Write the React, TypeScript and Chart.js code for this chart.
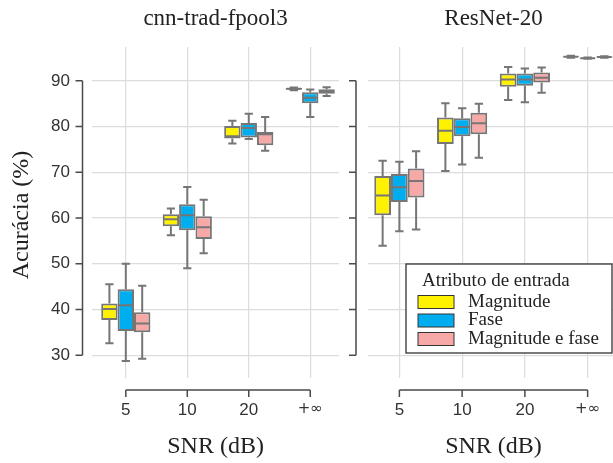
import React, { useEffect, useRef } from "react";
import { Chart, registerables } from "chart.js";
Chart.register(...registerables);

// ---------- data ----------
const snrLabels = ["5", "10", "20", "+∞"];
const yTickValues = [30, 40, 50, 60, 70, 80, 90];
const seriesNames = ["Magnitude", "Fase", "Magnitude e fase"];
const seriesColors = ["#FFF200", "#00AEEF", "#F7A9A8"];
const panelTitles = ["cnn-trad-fpool3", "ResNet-20"];
const xAxisTitle = "SNR (dB)";
const yAxisTitle = "Acurácia (%)";
const legendTitle = "Atributo de entrada";

// cnn-trad-fpool3
const cnnMagLow = [32.6, 56.2, 76.3, 87.95];
const cnnMagQ1 = [37.7, 58.2, 77.4, 88.05];
const cnnMagMed = [40.1, 59.7, 77.9, 88.25];
const cnnMagQ3 = [41.3, 60.8, 80.1, 88.45];
const cnnMagHigh = [45.5, 62.1, 81.25, 88.55];

const cnnFaseLow = [28.7, 49.0, 77.25, 82.1];
const cnnFaseQ1 = [35.3, 57.3, 77.6, 85.1];
const cnnFaseMed = [40.9, 60.6, 79.7, 86.3];
const cnnFaseQ3 = [44.4, 63.0, 80.8, 87.5];
const cnnFaseHigh = [50.0, 66.8, 82.8, 88.1];

const cnnBothLow = [29.2, 52.3, 74.7, 86.7];
const cnnBothQ1 = [35.0, 55.4, 75.9, 87.2];
const cnnBothMed = [36.9, 58.0, 78.3, 87.75];
const cnnBothQ3 = [39.4, 60.4, 78.8, 88.15];
const cnnBothHigh = [45.2, 64.0, 82.1, 88.6];

// ResNet-20
const resMagLow = [53.9, 70.3, 85.8, 95.05];
const resMagQ1 = [60.6, 76.2, 88.7, 95.15];
const resMagMed = [64.9, 79.1, 90.3, 95.25];
const resMagQ3 = [69.2, 82.0, 91.6, 95.35];
const resMagHigh = [72.5, 85.1, 93.0, 95.5];

const resFaseLow = [57.1, 71.7, 85.3, 94.85];
const resFaseQ1 = [63.5, 77.9, 88.9, 94.9];
const resFaseMed = [66.7, 79.9, 90.3, 94.95];
const resFaseQ3 = [69.6, 81.8, 91.6, 95.05];
const resFaseHigh = [72.3, 84.0, 92.7, 95.1];

const resBothLow = [57.5, 73.2, 87.4, 95.05];
const resBothQ1 = [64.5, 78.3, 89.65, 95.1];
const resBothMed = [68.1, 80.7, 90.7, 95.2];
const resBothQ3 = [70.8, 83.0, 91.8, 95.3];
const resBothHigh = [74.6, 85.0, 92.9, 95.35];

type Stats = { lo: number[]; q1: number[]; med: number[]; q3: number[]; hi: number[] };

const cnnStats: Stats[] = [
  { lo: cnnMagLow, q1: cnnMagQ1, med: cnnMagMed, q3: cnnMagQ3, hi: cnnMagHigh },
  { lo: cnnFaseLow, q1: cnnFaseQ1, med: cnnFaseMed, q3: cnnFaseQ3, hi: cnnFaseHigh },
  { lo: cnnBothLow, q1: cnnBothQ1, med: cnnBothMed, q3: cnnBothQ3, hi: cnnBothHigh },
];
const resStats: Stats[] = [
  { lo: resMagLow, q1: resMagQ1, med: resMagMed, q3: resMagQ3, hi: resMagHigh },
  { lo: resFaseLow, q1: resFaseQ1, med: resFaseMed, q3: resFaseQ3, hi: resFaseHigh },
  { lo: resBothLow, q1: resBothQ1, med: resBothMed, q3: resBothQ3, hi: resBothHigh },
];

// ---------- styles ----------
const EDGE = "rgb(118,118,118)";
const GRID = "#dcdcdc";
const AXIS = "#4a4a4a";
const TEXT = "#222";
const SERIF = "'Liberation Serif', 'Times New Roman', serif";
const SANS = "'Liberation Sans', Arial, sans-serif";
const DEJAVU = "'DejaVu Sans', sans-serif";

type Panel = {
  canvasLeft: number;
  canvasWidth: number;
  title: string;
  stats: Stats[];
  xMin: number;
  xMax: number;
  yAxisWidth: number;
  padRight: number;
  axisGap: number;
  showYLabels: boolean;
  showYTitle: boolean;
  showLegend: boolean;
};

const H = 463;
const PLOT_TOP = 47;
const PLOT_BOTTOM = 378;
const X_AXIS_Y = 390;

function makePlugin(p: Panel) {
  return {
    id: "boxDeco" + p.title,
    afterDatasetsDraw(chart: any) {
      const ctx = chart.ctx;
      const y = chart.scales.y;
      chart.data.datasets.forEach((ds: any, di: number) => {
        const meta = chart.getDatasetMeta(di);
        const st: Stats = ds.stats;
        meta.data.forEach((el: any, i: number) => {
          const { x, width } = el.getProps(["x", "width"], true);
          const pLo = y.getPixelForValue(st.lo[i]);
          const pQ1 = y.getPixelForValue(st.q1[i]);
          const pMed = y.getPixelForValue(st.med[i]);
          const pQ3 = y.getPixelForValue(st.q3[i]);
          const pHi = y.getPixelForValue(st.hi[i]);
          ctx.save();
          ctx.strokeStyle = EDGE;
          ctx.lineWidth = 2;
          ctx.beginPath();
          ctx.moveTo(x, pHi);
          ctx.lineTo(x, pQ3);
          ctx.moveTo(x, pQ1);
          ctx.lineTo(x, pLo);
          ctx.moveTo(x - width / 4, pHi);
          ctx.lineTo(x + width / 4, pHi);
          ctx.moveTo(x - width / 4, pLo);
          ctx.lineTo(x + width / 4, pLo);
          ctx.moveTo(x - width / 2 + 1, pMed);
          ctx.lineTo(x + width / 2 - 1, pMed);
          ctx.stroke();
          ctx.restore();
        });
      });
    },
    afterDraw(chart: any) {
      const ctx = chart.ctx;
      const xs = chart.scales.x;
      const ys = chart.scales.y;
      const ca = chart.chartArea;
      ctx.save();
      // axis lines (trimmed, offset)
      ctx.strokeStyle = AXIS;
      ctx.lineWidth = 1.5;
      const ax = ca.left - p.axisGap;
      const yTop = ys.getPixelForValue(yTickValues[yTickValues.length - 1]);
      const yBot = ys.getPixelForValue(yTickValues[0]);
      ctx.beginPath();
      ctx.moveTo(ax, yTop);
      ctx.lineTo(ax, yBot);
      yTickValues.forEach((v) => {
        const py = ys.getPixelForValue(v);
        ctx.moveTo(ax - 7, py);
        ctx.lineTo(ax, py);
      });
      const x0 = xs.getPixelForValue(0);
      const x3 = xs.getPixelForValue(snrLabels.length - 1);
      ctx.moveTo(x0, X_AXIS_Y);
      ctx.lineTo(x3, X_AXIS_Y);
      snrLabels.forEach((_, i) => {
        const px = xs.getPixelForValue(i);
        ctx.moveTo(px, X_AXIS_Y);
        ctx.lineTo(px, X_AXIS_Y + 7);
      });
      ctx.stroke();

      // titles
      const cx = (ca.left + ca.right) / 2;
      ctx.fillStyle = TEXT;
      ctx.textAlign = "center";
      ctx.textBaseline = "middle";
      ctx.font = `23px ${SERIF}`;
      ctx.fillText(p.title, cx, 19);
      ctx.font = `24px ${SERIF}`;
      ctx.fillText(xAxisTitle, cx, 447);
      if (p.showYTitle) {
        ctx.save();
        ctx.translate(22, 215);
        ctx.rotate(-Math.PI / 2);
        ctx.fillText(yAxisTitle, 0, 0);
        ctx.restore();
      }

      // legend
      if (p.showLegend) {
        const ox = -p.canvasLeft;
        const bx = 406 + ox;
        const by = 264;
        const bw = 206;
        const bh = 89;
        ctx.fillStyle = "#fff";
        ctx.fillRect(bx, by, bw, bh);
        ctx.strokeStyle = "#333";
        ctx.lineWidth = 1.3;
        ctx.strokeRect(bx, by, bw, bh);
        ctx.fillStyle = TEXT;
        ctx.textAlign = "left";
        ctx.textBaseline = "middle";
        ctx.font = `19px ${SERIF}`;
        ctx.fillText(legendTitle, 422 + ox, 281);
        const rows = [302, 320.5, 339];
        chart.data.datasets.forEach((ds: any, i: number) => {
          const ry = rows[i];
          ctx.fillStyle = ds.backgroundColor;
          ctx.fillRect(418 + ox, ry - 6.5, 36, 13);
          ctx.strokeStyle = "#333";
          ctx.lineWidth = 1;
          ctx.strokeRect(418 + ox, ry - 6.5, 36, 13);
          ctx.fillStyle = TEXT;
          ctx.fillText(ds.label, 468 + ox, ry);
        });
      }
      ctx.restore();
    },
  };
}

function buildChart(canvas: HTMLCanvasElement, p: Panel) {
  const datasets = p.stats.map((st, si) => ({
    label: seriesNames[si],
    backgroundColor: seriesColors[si],
    borderColor: EDGE,
    borderWidth: 2,
    borderSkipped: false,
    categoryPercentage: 0.8,
    barPercentage: 1.0,
    stats: st,
    data: snrLabels.map((_, i) => ({ x: i, y: [st.q1[i], st.q3[i]] })),
  }));
  return new Chart(canvas, {
    type: "bar",
    data: { datasets } as any,
    plugins: [makePlugin(p)],
    options: {
      responsive: false,
      animation: false,
      layout: { padding: { top: PLOT_TOP, right: p.padRight, left: 0, bottom: 0 } },
      plugins: { legend: { display: false }, tooltip: { enabled: false } },
      scales: {
        x: {
          type: "linear",
          min: p.xMin,
          max: p.xMax,
          offset: false,
          afterBuildTicks: (s: any) => {
            s.ticks = snrLabels.map((_, i) => ({ value: i }));
          },
          afterFit: (s: any) => {
            s.height = H - PLOT_BOTTOM;
          },
          grid: { offset: false, color: GRID, lineWidth: 1.2, drawTicks: false },
          border: { display: false },
          ticks: {
            padding: 22,
            color: "#333",
            maxRotation: 0,
            autoSkip: false,
            callback: (v: any) => snrLabels[Math.round(Number(v))],
            font: (c: any) =>
              c.index === 3 ? { family: DEJAVU, size: 15 } : { family: SANS, size: 17 },
          },
        },
        y: {
          type: "linear",
          min: 25,
          max: 97.4,
          beginAtZero: false,
          afterBuildTicks: (s: any) => {
            s.ticks = yTickValues.map((v) => ({ value: v }));
          },
          afterFit: (s: any) => {
            s.width = p.yAxisWidth;
          },
          grid: { color: GRID, lineWidth: 1.2, drawTicks: false },
          border: { display: false },
          ticks: {
            display: p.showYLabels,
            padding: 22,
            color: "#333",
            font: { family: SANS, size: 17 },
          },
        },
      },
    } as any,
  });
}

const panels: Panel[] = [
  {
    canvasLeft: 0,
    canvasWidth: 345,
    title: panelTitles[0],
    stats: cnnStats,
    xMin: -0.55,
    xMax: 3.47,
    yAxisWidth: 92,
    padRight: 2,
    axisGap: 9.5,
    showYLabels: true,
    showYTitle: true,
    showLegend: false,
  },
  {
    canvasLeft: 345,
    canvasWidth: 280,
    title: panelTitles[1],
    stats: resStats,
    xMin: -0.5,
    xMax: 3.5,
    yAxisWidth: 23,
    padRight: 6,
    axisGap: 12,
    showYLabels: false,
    showYTitle: false,
    showLegend: true,
  },
];

export default function App() {
  const ref0 = useRef<HTMLCanvasElement>(null);
  const ref1 = useRef<HTMLCanvasElement>(null);
  useEffect(() => {
    const charts: Chart[] = [];
    if (ref0.current) charts.push(buildChart(ref0.current, panels[0]));
    if (ref1.current) charts.push(buildChart(ref1.current, panels[1]));
    return () => charts.forEach((c) => c.destroy());
  }, []);
  const refs = [ref0, ref1];
  return (
    <div
      style={{
        position: "fixed",
        left: 0,
        top: 0,
        width: 613,
        height: H,
        overflow: "hidden",
        background: "#fff",
      }}
    >
      {panels.map((p, i) => (
        <canvas
          key={i}
          ref={refs[i]}
          width={p.canvasWidth}
          height={H}
          style={{
            position: "absolute",
            left: p.canvasLeft,
            top: 0,
            width: p.canvasWidth,
            height: H,
          }}
        />
      ))}
    </div>
  );
}
